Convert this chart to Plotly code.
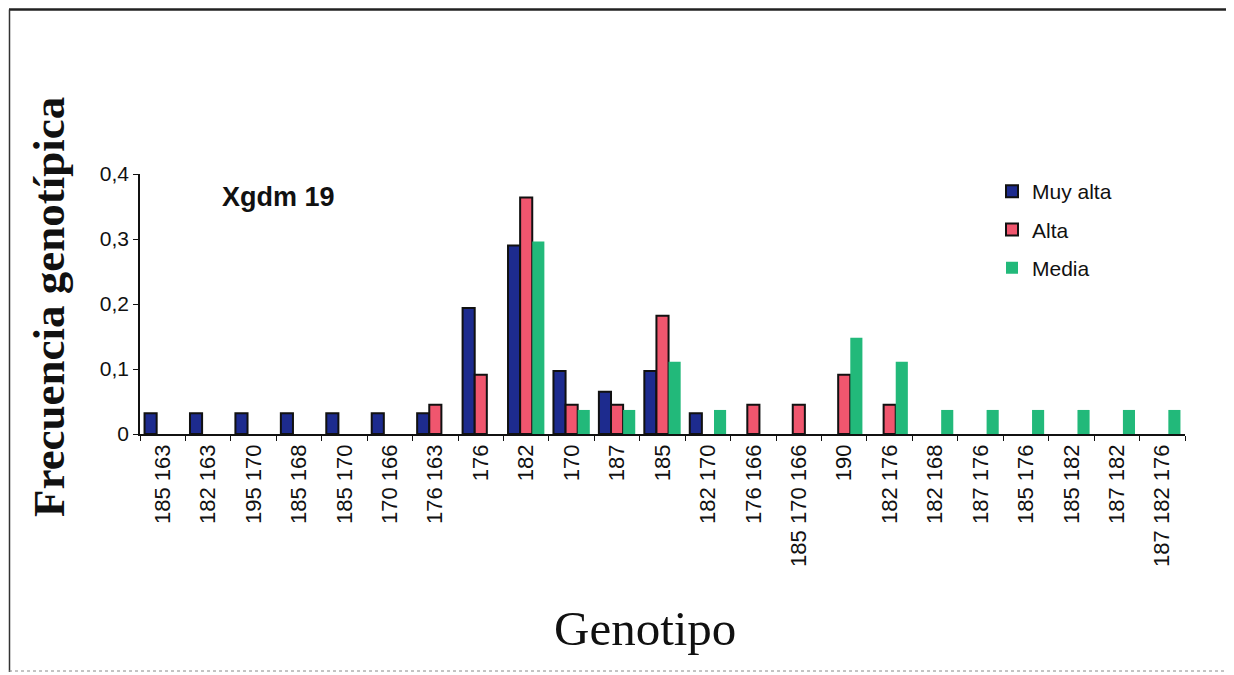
import plotly.graph_objects as go

categories = ["185 163", "182 163", "195 170", "185 168", "185 170", "170 166", "176 163",
              "176", "182", "170", "187", "185", "182 170", "176 166", "185 170 166",
              "190", "182 176", "182 168", "187 176", "185 176", "185 182", "187 182",
              "187 182 176"]

muy_alta = [0.032, 0.032, 0.032, 0.032, 0.032, 0.032, 0.032,
            0.194, 0.290, 0.097, 0.065, 0.097, 0.032, None, None,
            None, None, None, None, None, None, None, None]
alta = [None, None, None, None, None, None, 0.045,
        0.091, 0.364, 0.045, 0.045, 0.182, None, 0.045, 0.045,
        0.091, 0.045, None, None, None, None, None, None]
media = [None, None, None, None, None, None, None,
         None, 0.296, 0.037, 0.037, 0.111, 0.037, None, None,
         0.148, 0.111, 0.037, 0.037, 0.037, 0.037, 0.037, 0.037]

y_ticks = [0, 0.1, 0.2, 0.3, 0.4]
y_tick_labels = ["0", "0,1", "0,2", "0,3", "0,4"]

series_names = ["Muy alta", "Alta", "Media"]
colors = ["#1d2b8e", "#f0566e", "#22b97a"]

fig = go.Figure()
for name, vals, col in zip(series_names, [muy_alta, alta, media], colors):
    outline = 0 if name == "Media" else 2
    fig.add_trace(go.Bar(
        x=categories, y=vals, name=name, legendgroup=name,
        marker=dict(color=col, line=dict(color="#111111", width=outline)),
    ))

# page body has an 8px margin; positions below are in screen pixels
OFF = 8
L, R, T, B = 140, 1185, 174, 434
W, H = 1234 - OFF, 675 - OFF

def px(x):
    return (x - L) / (R - L)

def py(y):
    return (B - y) / (B - T)

fig.update_layout(
    width=W, height=H,
    margin=dict(l=L - OFF, r=W - (R - OFF), t=T - OFF, b=H - (B - OFF)),
    paper_bgcolor="white", plot_bgcolor="white",
    barmode="group", bargap=0.2, bargroupgap=0,
    font=dict(family="Liberation Sans, Arial", color="#111111"),
    showlegend=True,
    legend=dict(x=px(992), y=py(171), xanchor="left", yanchor="top",
                font=dict(size=21, family="Liberation Sans, Arial"),
                tracegroupgap=8, bgcolor="rgba(0,0,0,0)"),
    xaxis=dict(type="category", tickangle=-90, showline=True, linecolor="#111111",
               linewidth=1.5, ticks="outside", tickson="boundaries", ticklen=5,
               tickcolor="#111111", tickfont=dict(size=22, family="Liberation Sans, Arial"),
               showgrid=False, zeroline=False),
    yaxis=dict(range=[0, 0.4], tickvals=y_ticks, ticktext=y_tick_labels,
               showline=True, linecolor="#111111", linewidth=1.5, ticks="outside",
               ticklen=5, tickcolor="#111111",
               tickfont=dict(size=21, family="Liberation Sans, Arial"),
               showgrid=False, zeroline=False),
    annotations=[
        dict(text="<b>Xgdm 19</b>", xref="paper", yref="paper", x=px(278), y=py(197),
             xanchor="center", yanchor="middle", showarrow=False,
             font=dict(size=27, family="Liberation Sans, Arial", color="#111111")),
        dict(text="<b>Frecuencia genotípica</b>", xref="paper", yref="paper",
             x=px(49), y=py(307), xanchor="center", yanchor="middle", textangle=-90,
             showarrow=False,
             font=dict(size=45, family="Liberation Serif, Times New Roman", color="#111111")),
        dict(text="Genotipo", xref="paper", yref="paper", x=px(645), y=py(628),
             xanchor="center", yanchor="middle", showarrow=False,
             font=dict(size=49, family="Liberation Serif, Times New Roman", color="#111111")),
    ],
    shapes=[
        dict(type="line", xref="paper", yref="paper", x0=px(9), x1=px(1234), y0=py(9.5), y1=py(9.5),
             line=dict(color="#222222", width=2.5)),
        dict(type="line", xref="paper", yref="paper", x0=px(9.5), x1=px(9.5), y0=py(9.5), y1=py(672),
             line=dict(color="#333333", width=1.5)),
        dict(type="line", xref="paper", yref="paper", x0=px(9), x1=px(1234), y0=py(671), y1=py(671),
             line=dict(color="#888888", width=1, dash="dot")),
    ],
)

fig.write_html("out.html")
